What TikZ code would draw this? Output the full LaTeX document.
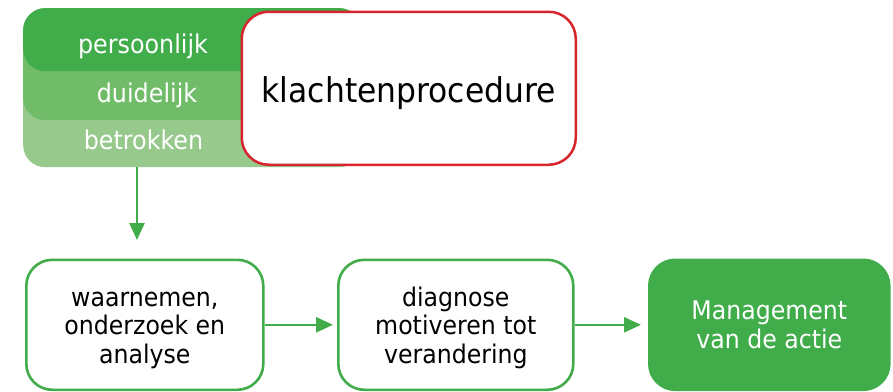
\documentclass[tikz,border=0pt]{standalone}
\usepackage{fontspec}
\setmainfont{DejaVu Sans}[FakeStretch=0.92]
\usetikzlibrary{arrows.meta}
\definecolor{gDark}{RGB}{64,173,74}
\definecolor{gMid}{RGB}{112,188,104}
\definecolor{gLight}{RGB}{150,201,139}
\definecolor{rEdge}{RGB}{214,37,44}
\begin{document}
\begin{tikzpicture}[x=1pt,y=-1pt,
  band/.style={rectangle, rounded corners=22pt, inner sep=0pt, minimum width=338pt, anchor=north west},
  lbl/.style={text=white, inner sep=0pt, anchor=base, font=\fontsize{25.9}{28.3}\selectfont},
  flowbox/.style={rectangle, rounded corners=26pt, draw=gDark, line width=2.6pt, fill=white, inner sep=0pt,
    minimum height=130pt, anchor=north west, align=center, font=\fontsize{25.7}{28.3}\selectfont},
  arr/.style={draw=gDark, line width=2.6pt, -{Triangle[length=17pt,width=15pt]}}]
\useasboundingbox (0,0) rectangle (893,391);
\node[band, fill=gLight, minimum height=159pt] (light) at (23,8) {};
\node[band, fill=gMid, minimum height=112pt] (mid) at (23,8) {};
\node[band, fill=gDark, minimum height=63pt] (dark) at (23,8) {};
\node[lbl] (l1) at (143,53) {persoonlijk};
\node[lbl] (l2) at (147,102) {duidelijk};
\node[lbl] (l3) at (143.5,149) {betrokken};
\node[draw=rEdge, fill=white, line width=2.5pt, rounded corners=27pt, inner sep=0pt,
  minimum width=334pt, minimum height=153pt, anchor=north west,
  font=\fontsize{34.1}{40}\selectfont] (kp) at (240.5,10.5) {\rule{0pt}{35pt}klachtenprocedure};
\node[flowbox, minimum width=237pt] (b1) at (25,258.5) {\rule{0pt}{25.6pt}waarnemen,\\onderzoek en\\analyse};
\node[flowbox, minimum width=235pt] (b2) at (337,258.5) {\rule{0pt}{25.6pt}diagnose\\motiveren tot\\verandering};
\node[flowbox, minimum width=240pt, fill=gDark, text=white] (b3) at (648,258.5) {Management\\van de actie};
\coordinate (a1) at (137,240);
\draw[arr] (light.south -| a1) -- (a1);
\draw[arr, shorten >=4pt] (b1) -- (b2);
\draw[arr, shorten >=7pt] (b2) -- (b3);
\end{tikzpicture}
\end{document}
